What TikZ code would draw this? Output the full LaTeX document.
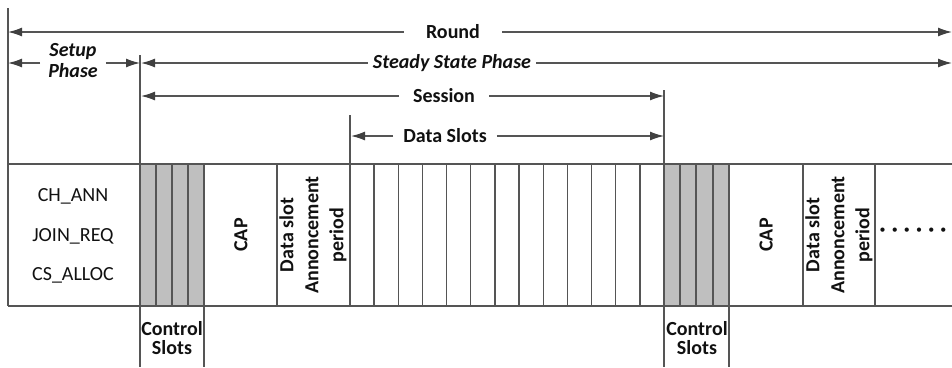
\documentclass[tikz,border=0pt]{standalone}
\usepackage{fontspec}
\setmainfont{Carlito}
\usetikzlibrary{arrows.meta}
\definecolor{lc}{HTML}{555555}
\definecolor{ac}{HTML}{404040}
\definecolor{sh}{HTML}{BFBFBF}
\definecolor{tc}{HTML}{111111}
\tikzset{
  ln/.style={draw=lc,line width=1.4pt},
  arr/.style={draw=lc,line width=1.4pt,-{Latex[length=14pt,width=9pt,color=ac]}},
  lbl/.style={font=\fontsize{20}{21}\selectfont\bfseries,text=tc,inner sep=0pt},
  plain/.style={font=\fontsize{20}{22}\selectfont,text=tc,inner sep=0pt},
  vlbl/.style={font=\fontsize{20}{25}\selectfont\bfseries,text=tc,inner sep=0pt,rotate=90,align=center},
}
\begin{document}
\begin{tikzpicture}[x=1pt,y=-1pt]
\useasboundingbox (0,0) rectangle (952,367);
% shaded control slots
\fill[sh] (140,164) rectangle (204,306);
\fill[sh] (664,164) rectangle (729,306);
% band
\draw[ln] (8,164) -- (952,164);
\draw[ln] (8,306) -- (952,306);
% long verticals
\draw[ln] (8,8) -- (8,306);
\draw[ln] (140,55) -- (140,367);
\draw[ln] (204,164) -- (204,367);
\draw[ln] (350,115) -- (350,306);
\draw[ln] (664,90) -- (664,367);
\draw[ln] (729,164) -- (729,367);
% slot dividers
\foreach \x in {156,172,188,277,803,875,680,696,713}
  \draw[ln] (\x,164) -- (\x,306);
\foreach \i in {1,...,12}
  \draw[ln] ({350+\i*24.15},164) -- ({350+\i*24.15},306);
% end coordinates
\coordinate (rL) at (8,32);
\coordinate (rR) at (952,32);
\coordinate (sL) at (8,63);
\coordinate (sR) at (140,63);
\coordinate (ssL) at (141,63);
\coordinate (ssR) at (952,63);
\coordinate (seL) at (141,96);
\coordinate (seR) at (664,96);
\coordinate (dL) at (351,136);
\coordinate (dR) at (664,136);
% labels and dimension arrows
\node[lbl,inner xsep=22pt] (round) at (453,32) {Round};
\draw[arr] (round.west) -- (rL);
\draw[arr] (round.east) -- (rR);
\node[lbl,align=center,inner xsep=8pt,font=\fontsize{20}{21}\selectfont\bfseries\itshape] (setup) at (73,61) {Setup\\Phase};
\draw[arr] (setup.west|-sL) -- (sL);
\draw[arr] (setup.east|-sR) -- (sR);
\node[lbl,inner xsep=5pt,font=\fontsize{20}{21}\selectfont\bfseries\itshape] (steady) at (452,63) {Steady State Phase};
\draw[arr] (steady.west) -- (ssL);
\draw[arr] (steady.east) -- (ssR);
\node[lbl,inner xsep=14pt] (session) at (444,96) {Session};
\draw[arr] (session.west) -- (seL);
\draw[arr] (session.east) -- (seR);
\node[lbl,inner xsep=10pt] (dslots) at (445,136) {Data Slots};
\draw[arr] (dslots.west) -- (dL);
\draw[arr] (dslots.east) -- (dR);
% band texts
\node[plain] (chann) at (73,196) {CH\_ANN};
\node[plain] (joinreq) at (73,236) {JOIN\_REQ};
\node[plain] (csalloc) at (73,275) {CS\_ALLOC};
\node[vlbl] (cap1) at (241,235) {CAP};
\node[vlbl] (dsa1) at (313,235) {Data slot\\Annoncement\\period};
\node[vlbl] (cap2) at (766,235) {CAP};
\node[vlbl] (dsa2) at (839,235) {Data slot\\Annoncement\\period};
\node[lbl,font=\fontsize{12}{12}\selectfont] (dots) at (913,231) {•\hspace{6.2pt}•\hspace{6.2pt}•\hspace{6.2pt}•\hspace{6.2pt}•\hspace{6.2pt}•};
% control slots labels
\node[lbl,align=center,font=\fontsize{20}{19}\selectfont\bfseries] (cs1) at (172,338) {Control\\Slots};
\node[lbl,align=center,font=\fontsize{20}{19}\selectfont\bfseries] (cs2) at (697,338) {Control\\Slots};
\end{tikzpicture}
\end{document}
